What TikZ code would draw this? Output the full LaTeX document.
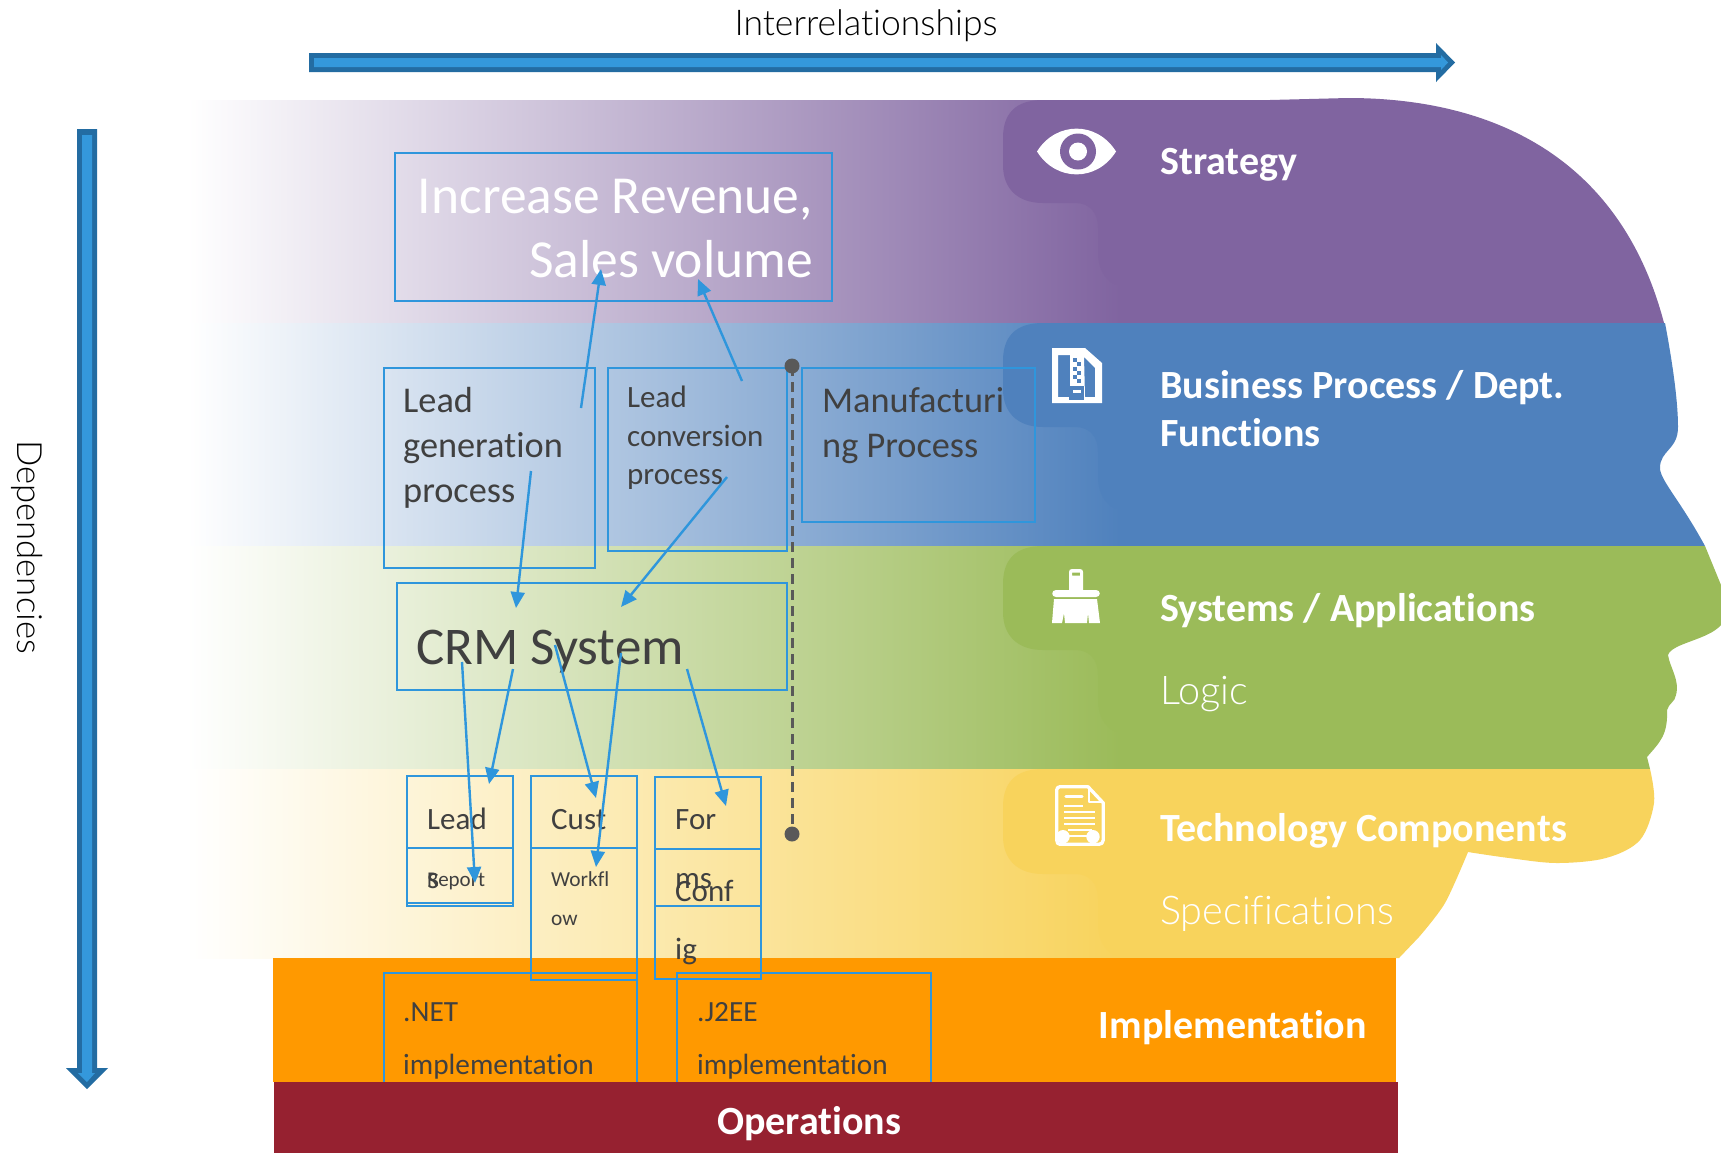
\documentclass[tikz,border=0pt]{standalone}
\usepackage{fontspec}
\setmainfont{Carlito}[Ligatures=NoCommon]
\newfontfamily\lightf{Lato Light}[Scale=0.92,Ligatures=NoCommon]
\definecolor{cpurple}{HTML}{8064A0}
\definecolor{cblue}{HTML}{4F81BD}
\definecolor{cgreen}{HTML}{9BBB59}
\definecolor{cyellow}{HTML}{F8D35C}
\definecolor{corange}{HTML}{FF9900}
\definecolor{cmaroon}{HTML}{962130}
\definecolor{cline}{HTML}{2F96DC}
\definecolor{cdark}{HTML}{236CA2}
\definecolor{clight}{HTML}{3498DB}
\definecolor{ctext}{HTML}{404040}
\definecolor{cdash}{HTML}{595959}
\usetikzlibrary{arrows.meta}
\newcommand{\fsz}[1]{\fontsize{#1}{#1}\selectfont}
\tikzset{x=1pt,y=-1pt,
 boxn/.style={draw=cline,line width=2pt,anchor=north west,inner sep=0pt,outer sep=0pt,fill=none},
 flow/.style={draw=cline,line width=2.4pt,-{Triangle[length=16pt,width=14pt]}},
 txt/.style={anchor=base west,inner sep=0pt,text=ctext},
 wtxt/.style={anchor=base west,inner sep=0pt,text=white,font=\bfseries\fsz{40}},
 lighttxt/.style={anchor=base west,inner sep=0pt,text=white,font=\lightf\fsz{43}},
 icon/.style={fill=white,draw=none}}
\newcommand{\tab}[4]{% colour, top, bottom of tab, bottom of band
 \shade[left color=white,right color=#1] (187,#2) rectangle (1120,#4);
 \fill[#1] (1120,#2) -- (1043,#2) .. controls (1015,#2) and (1003,#2+14) .. (1003,#2+38)
  -- (1003,#3-38) .. controls (1003,#3-14) and (1018,#3) .. (1043,#3)
  -- (1075,#3) .. controls (1090,#3) and (1098,#3+10) .. (1098,#3+25)
  -- (1098,#3+50) .. controls (1098,#3+68) and (1108,#3+82) .. (1120,#3+82) -- (1120,#4) -- cycle;
}
\begin{document}
\begin{tikzpicture}
\useasboundingbox (0,0) rectangle (1721,1152);
\fill[white] (0,0) rectangle (1721,1154);
% bands
\tab{cpurple}{100}{203}{323}
\fill[cpurple] (1119,323) -- (1119,100) -- (1270,100) -- (1348,98) .. controls (1490,98) and (1620,155) .. (1664,323) -- cycle;
\tab{cblue}{323}{427}{546}
\fill[cblue] (1119,323) -- (1665,323) .. controls (1672,360) and (1678,400) .. (1678,427)
  .. controls (1678,450) and (1660,450) .. (1660,468) .. controls (1660,480) and (1680,500) .. (1705,546)
  -- (1119,546) -- cycle;
\tab{cgreen}{546}{650}{769}
\fill[cgreen] (1119,546) -- (1705,546) -- (1721,585) -- (1721,625)
  .. controls (1708,640) and (1672,643) .. (1668,655)
  .. controls (1670,668) and (1680,680) .. (1676,695)
  .. controls (1675,702) and (1669,703) .. (1667,710)
  .. controls (1668,735) and (1660,742) .. (1647,757) -- (1650,769) -- (1119,769) -- cycle;
\tab{cyellow}{769}{874}{958}
\fill[cyellow] (1119,958) -- (1119,769) -- plot[smooth,tension=0.55] coordinates {(1650,769) (1654,803) (1640,840) (1606,858) (1557,863) (1509,858) (1468,852)}
  -- plot[smooth,tension=0.5] coordinates {(1468,852) (1445,903) (1419,937)} -- (1399,958) -- cycle;
% implementation / operations
\fill[corange] (273,958) rectangle (1396,1082);
% boxes
\node[boxn,minimum width=437pt,minimum height=148pt] (goal) at (395,153) {};
\node[boxn,minimum width=211pt,minimum height=200pt] (leadgen) at (384,368) {};
\node[boxn,minimum width=179pt,minimum height=183pt] (leadconv) at (608,368) {};
\node[boxn,minimum width=233pt,minimum height=154pt] (manuf) at (802,368) {};
\node[boxn,minimum width=390pt,minimum height=107pt] (crm) at (397,583) {};
\node[boxn,minimum width=106pt,minimum height=130pt] (lead) at (407,776) {};
\node[boxn,minimum width=106pt,minimum height=55pt] (report) at (407,848) {};
\node[boxn,minimum width=106pt,minimum height=72pt] (cust) at (531,776) {};
\node[boxn,minimum width=106pt,minimum height=132pt] (workflow) at (531,848) {};
\node[boxn,minimum width=106pt,minimum height=129pt] (forms) at (655,777) {};
\node[boxn,minimum width=106pt,minimum height=130pt] (config) at (655,849) {};
\node[boxn,minimum width=253pt,minimum height=120pt] (net) at (384,973) {};
\node[boxn,minimum width=254pt,minimum height=120pt] (j2ee) at (677,973) {};
\fill[cmaroon] (274,1082) rectangle (1398,1154);
% box texts
\node[txt,text=white,font=\fsz{53.5},anchor=base east] (t1) at (813,213) {Increase Revenue,};
\node[txt,text=white,font=\fsz{53.5},anchor=base east] (t2) at (813,277) {Sales volume};
\node[txt,font=\fsz{36.3}] (t3) at (403,412) {Lead};
\node[txt,font=\fsz{36.3}] (t4) at (403,457) {generation};
\node[txt,font=\fsz{36.3}] (t5) at (403,502) {process};
\node[txt,font=\fsz{31}] (t6) at (627,407) {Lead};
\node[txt,font=\fsz{31}] (t7) at (627,446) {conversion};
\node[txt,font=\fsz{31}] (t8) at (627,484) {process};
\node[txt,font=\fsz{36.3}] (t9) at (822,412) {Manufacturi};
\node[txt,font=\fsz{36.3}] (t10) at (822,457) {ng Process};
\node[txt,font=\fsz{53}] (t11) at (416,664) {CRM System};
\node[txt,font=\fsz{31}] (t12) at (427,829) {Lead};
\node[txt,font=\fsz{31}] (t13) at (427,888) {s};
\node[txt,font=\fsz{21}] (t14) at (427,886) {Report};
\node[txt,font=\fsz{31}] (t15) at (551,829) {Cust};
\node[txt,font=\fsz{21.4}] (t16) at (551,886) {Workfl};
\node[txt,font=\fsz{21.4}] (t17) at (551,925) {ow};
\node[txt,font=\fsz{31}] (t18) at (675,829) {For};
\node[txt,font=\fsz{31}] (t19) at (675,888) {ms};
\node[txt,font=\fsz{31}] (t20) at (675,901) {Conf};
\node[txt,font=\fsz{31}] (t21) at (675,959) {ig};
\node[txt,font=\fsz{29.3}] (t22) at (403,1021) {.NET};
\node[txt,font=\fsz{29.3}] (t23) at (403,1074) {implementation};
\node[txt,font=\fsz{29.3}] (t24) at (697,1021) {.J2EE};
\node[txt,font=\fsz{29.3}] (t25) at (697,1074) {implementation};
% labels
\node[wtxt] (strategy) at (1160,174) {Strategy};
\node[wtxt] (bp1) at (1160,398) {Business Process / Dept.};
\node[wtxt] (bp2) at (1160,446) {Functions};
\node[wtxt] (sys) at (1160,621) {Systems / Applications};
\node[lighttxt] (logic) at (1160,704) {Logic};
\node[wtxt] (tech) at (1160,841) {Technology Components};
\node[lighttxt] (spec) at (1160,924) {Specifications};
\node[wtxt,anchor=base east] (impl) at (1367,1038) {Implementation};
\node[wtxt,anchor=base] (ops) at (809,1134) {Operations};
\node[inner sep=0pt,anchor=base,text=black,font=\lightf\fsz{38.6}] (inter) at (866,35.5) {Interrelationships};
\node[inner sep=0pt,anchor=base,text=black,font=\lightf\fsz{37.7},rotate=-90] (dep) at (17.5,547) {Dependencies};
% icons
% eye
\fill[icon] (1037,151.5) .. controls (1056,121) and (1097,121) .. (1116,151.5) .. controls (1097,182) and (1056,182) .. (1037,151.5) -- cycle;
\fill[cpurple] (1078,151.5) circle[radius=18];
\fill[icon] (1078,151.5) circle[radius=9];
% zip file
\fill[icon,even odd rule] (1052,348) -- (1085,348) -- (1102,363) -- (1102,403) -- (1052,403) -- cycle
  (1058,355) -- (1070,355) -- (1070,397) -- (1058,397) -- cycle
  (1084,357) -- (1095,368) -- (1095,397) -- (1085,397) -- cycle;
\foreach \yy in {358,366.5,375} {\fill[cblue] (1073,\yy) rectangle (1077,\yy+4); \fill[cblue] (1077,\yy+4) rectangle (1081,\yy+8);}
\fill[cblue] (1069,386) rectangle (1084,400);
\fill[icon] (1073,390) rectangle (1081,393);
% brush
\fill[icon,even odd rule] (1069,572) .. controls (1069,570) and (1070,569) .. (1072,569) -- (1080,569) .. controls (1082,569) and (1083,570) .. (1083,572)
  -- (1083,590) -- (1096,590) .. controls (1101,590) and (1101,597) .. (1096,597) -- (1056,597) .. controls (1051,597) and (1051,590) .. (1056,590) -- (1069,590) -- cycle
  (1072,572.5) rectangle (1080,575.5);
\fill[icon] (1052,623) -- (1054,599) -- (1097,599) -- (1100,623) -- (1089,623) -- (1088,613) -- (1087,623) -- (1065,623) -- (1064,613) -- (1062,623) -- cycle;
% document
\draw[white,line width=3.3pt,line join=round] (1060,786.7) -- (1088,786.7) -- (1103.3,803) -- (1103.3,840) .. controls (1103.3,843) and (1101,844.3) .. (1099,844.3) -- (1060,844.3) .. controls (1058,844.3) and (1056.7,843) .. (1056.7,840) -- (1056.7,790) .. controls (1056.7,788) and (1058,786.7) .. (1060,786.7) -- cycle;
\draw[white,line width=2.4pt,line join=round] (1089,786.7) -- (1089,802) -- (1103.3,802);
\draw[white,line width=3.4pt,line cap=round] (1066,796.7) -- (1082,796.7);
\draw[white,line width=1.7pt] (1064,805.7) -- (1083,805.7) (1064,811.7) -- (1095,811.7) (1064,817.7) -- (1095,817.7) (1064,823.7) -- (1095,823.7) (1068,830) -- (1092,830) (1068,836) -- (1092,836);
\fill[icon] (1063,836.7) circle[radius=6.7] (1093,836.7) circle[radius=6.7];
% coordinates for connectors
\coordinate (a1s) at (581,408); \coordinate (a1e) at (601,269);
\coordinate (a2s) at (742,381); \coordinate (a2e) at (698,279);
\coordinate (a3s) at (531,471); \coordinate (a3e) at (516,608);
\coordinate (a4s) at (727,477); \coordinate (a4e) at (621,607);
\coordinate (a5s) at (462,662); \coordinate (a5e) at (475,883);
\coordinate (a6s) at (513,669); \coordinate (a6e) at (489,784);
\coordinate (a7s) at (555,645); \coordinate (a7e) at (596,798);
\coordinate (a8s) at (621,653); \coordinate (a8e) at (596,867);
\coordinate (a9s) at (687,669); \coordinate (a9e) at (726,806);
\foreach \n in {1,...,9} {\draw[flow] (a\n s) -- (a\n e);}
% dashed with dots
\coordinate (d1) at (792,366); \coordinate (d2) at (792,834);
\draw[cdash,line width=3pt,dash pattern=on 10pt off 6pt] (d1) -- (d2);
\fill[cdash] (d1) circle[radius=7.5] (d2) circle[radius=7.5];
% big arrows
\fill[cdark] (309,53) -- (1436,53) -- (1436,43) -- (1455,62.5) -- (1436,82) -- (1436,72) -- (309,72) -- cycle;
\fill[clight] (314,58) -- (1441,58) -- (1441,55) -- (1448,62.5) -- (1441,70) -- (1441,67) -- (314,67) -- cycle;
\fill[cdark] (77,129) -- (97,129) -- (97,1068) -- (108,1068) -- (87,1089) -- (66,1068) -- (77,1068) -- cycle;
\fill[clight] (82,135) -- (92,135) -- (92,1073) -- (95,1073) -- (87,1082) -- (78,1073) -- (82,1073) -- cycle;
\end{tikzpicture}
\end{document}
